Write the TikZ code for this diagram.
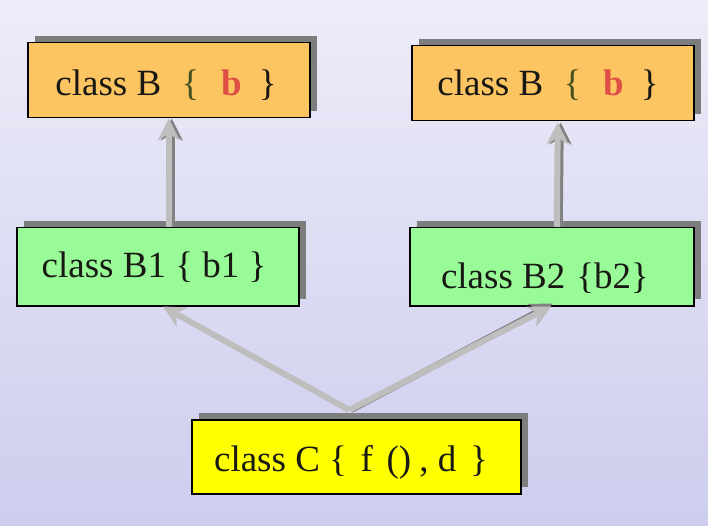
\documentclass[tikz,border=0pt]{standalone}
\usepackage{fontspec}
\setmainfont{Liberation Serif}
\usetikzlibrary{arrows.meta,shadows}
\definecolor{bgtop}{RGB}{236,236,249}
\definecolor{bgbot}{RGB}{205,205,238}
\definecolor{orangebox}{RGB}{253,196,98}
\definecolor{greenbox}{RGB}{152,251,152}
\definecolor{yellowbox}{RGB}{255,255,0}
\definecolor{shadowc}{RGB}{125,125,125}
\definecolor{arrowc}{RGB}{190,190,190}
\definecolor{arrowsh}{RGB}{130,130,130}
\definecolor{bracec}{RGB}{70,80,30}
\definecolor{redb}{RGB}{222,80,70}
\definecolor{txtc}{RGB}{25,25,20}
\begin{document}
\begin{tikzpicture}[x=1pt,y=-1pt,
  box/.style={draw=black, line width=1.5pt, inner sep=0pt, anchor=north west,
    drop shadow={shadow xshift=7pt, shadow yshift=7pt, fill=shadowc, opacity=1}},
  txt/.style={anchor=base, inner sep=0pt, font=\fontsize{37}{40}\selectfont, text=txtc},
  arrowlight/.style={draw=arrowc, line width=6pt,
    -{Stealth[length=22pt,width=22pt,inset=7pt]}},
  arrowdark/.style={draw=arrowsh, line width=6pt,
    -{Stealth[length=22pt,width=22pt,inset=7pt]}},
]
\fill[top color=bgtop, bottom color=bgbot] (0,0) rectangle (708,526);
\useasboundingbox (0,0) rectangle (708,526);

% boxes
\node[box, fill=orangebox, minimum width=282pt, minimum height=75pt] (bl) at (27,42) {};
\node[box, fill=orangebox, minimum width=282pt, minimum height=75pt] (br) at (411,45) {};
\node[box, fill=greenbox, minimum width=282pt, minimum height=78pt] (b1) at (16,227) {};
\node[box, fill=greenbox, minimum width=284pt, minimum height=78pt] (b2) at (409,227) {};
\node[box, fill=yellowbox, minimum width=329pt, minimum height=74pt] (c) at (191,419) {};

% texts
\node[txt] (tbl) at (166,96) {class B\hspace{0.55em}{\color{bracec}\{}\hspace{0.6em}{\color{redb}\textbf{b}}\hspace{0.45em}\}};
\node[txt] (tbr) at (548,96) {class B\hspace{0.55em}{\color{bracec}\{}\hspace{0.6em}{\color{redb}\textbf{b}}\hspace{0.45em}\}};
\node[txt] (tb1) at (154,277) {class B1 \{ b1 \}};
\node[txt] (tb2) at (545,288) {class B2\hspace{0.05em} \{b2\}};
\node[txt] (tc) at (351,471) {class C \{\hspace{0.12em} f\hspace{0.12em} ()\hspace{0.22em}, d\hspace{0.12em} \}};

% arrows (shadow first)
\draw[arrowdark] ([xshift=3pt]b1.north -| bl.south) -- ([xshift=3pt]bl.south);
\draw[arrowlight] (b1.north -| bl.south) -- (bl.south);
\draw[arrowdark] ([xshift=8pt]b2.north) -- ([xshift=8pt,yshift=-1pt]br.south);
\draw[arrowlight] ([xshift=5pt]b2.north) -- ([xshift=5pt,yshift=-1pt]br.south);

\coordinate (cs) at ([xshift=-7pt,yshift=9pt]c.north);
\draw[arrowlight] (cs) -- ([xshift=5pt]b1.south);
\draw[arrowdark] ([xshift=2pt]cs) -- ([xshift=1pt,yshift=3pt]b2.south);
\draw[arrowlight] (cs) -- ([xshift=-1pt]b2.south);
\end{tikzpicture}
\end{document}
